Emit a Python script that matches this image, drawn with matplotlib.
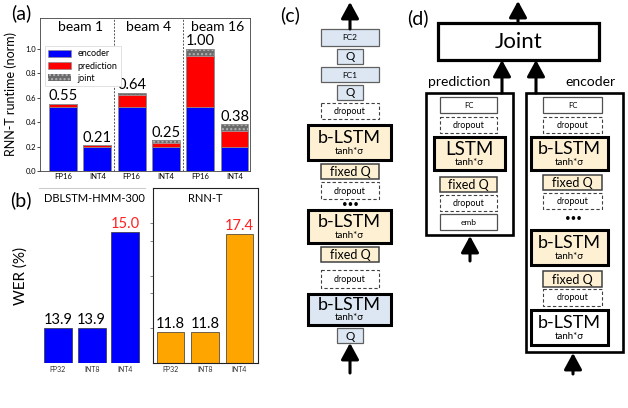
import numpy as np
import matplotlib
matplotlib.use("Agg")
import matplotlib.pyplot as plt
from matplotlib.patches import Rectangle

plt.rcParams['font.family'] = ['Lato', 'DejaVu Sans']

# (a) runtime breakdown
# -------------------------------------------------------------------------
beams = ['beam 1', 'beam 4', 'beam 16']
prec_a = ['FP16', 'INT4', 'FP16', 'INT4', 'FP16', 'INT4']
encoder = [0.52, 0.20, 0.52, 0.20, 0.52, 0.20]
prediction = [0.03, 0.01, 0.10, 0.03, 0.42, 0.13]
joint = [0.00, 0.00, 0.02, 0.02, 0.06, 0.05]
totals = [0.55, 0.21, 0.64, 0.25, 1.00, 0.38]

# (b) WER
# -------------------------------------------------------------------------
prec_b = ['FP32', 'INT8', 'INT4']
wer_dblstm = [13.9, 13.9, 15.0]
wer_rnnt = [11.8, 11.8, 17.4]

W, H = 628, 408
fig = plt.figure(figsize=(W / 100, H / 100), dpi=100)


def px_axes(x0, y0, x1, y1):
    return fig.add_axes([x0 / W, 1 - y1 / H, (x1 - x0) / W, (y1 - y0) / H])


# panel (a)
ax = px_axes(40, 18, 250, 171)
x = np.arange(len(prec_a))
enc = np.array(encoder)
pre = np.array(prediction)
jnt = np.array(joint)
ax.bar(x, enc, 0.81, color='#0000ff', edgecolor='#8c8c8c', lw=0.5, label='encoder')
ax.bar(x, pre, 0.81, bottom=enc, color='#ff0000', edgecolor='#8c8c8c', lw=0.5, label='prediction')
ax.bar(x, jnt, 0.81, bottom=enc + pre, color='#6a6a6a', edgecolor='#b4b4b4',
       hatch='....', lw=0, label='joint')
ax.bar(x, enc + pre + jnt, 0.81, fill=False, edgecolor='#8c8c8c', lw=0.6)
for xi, t in zip(x, totals):
    ax.text(xi, t + 0.005, f'{t:.2f}', ha='center', va='bottom', fontsize=10.5)
for k, b in enumerate(beams):
    ax.text(2 * k + 0.5, 1.18, b, ha='center', va='center', fontsize=10)
for sep in [1.5, 3.5]:
    ax.axvline(sep, color='#555555', ls=(0, (2, 1.5)), lw=0.7)
ax.set_xlim(-0.67, 5.45)
ax.set_ylim(0, 1.25)
ax.set_yticks(np.arange(0, 1.01, 0.2))
ax.set_yticklabels([f'{v:.1f}' for v in np.arange(0, 1.01, 0.2)])
ax.set_xticks(x)
ax.set_xticklabels(prec_a)
ax.tick_params(axis='y', labelsize=5.5, length=2, width=0.5, pad=1)
ax.tick_params(axis='x', labelsize=5.5, length=0, pad=1.5)
for s in ax.spines.values():
    s.set_linewidth(0.6)
    s.set_color('#404040')
ax.set_ylabel('RNN-T runtime (norm)', fontsize=9)
ax.yaxis.set_label_coords(-0.11, 0.5)
leg = ax.legend(loc='upper left', bbox_to_anchor=(0.0, 0.845), fontsize=6.5,
                handlelength=2.6, handleheight=0.9, labelspacing=0.35,
                borderpad=0.35, handletextpad=0.7, fancybox=False, framealpha=1)
leg.get_frame().set_edgecolor('#dddddd')
leg.get_frame().set_linewidth(0.6)

# panel (b) left
bl = px_axes(39, 188, 145, 363)
xb = np.arange(len(prec_b))
bl.bar(xb, np.array(wer_dblstm) - 13.5, 0.83, bottom=13.5, color='#0000ff',
       edgecolor='#333333', lw=0.5)
for xi, v in zip(xb, wer_dblstm):
    bl.text(xi, v + 0.01, f'{v:.1f}', ha='center', va='bottom', fontsize=10.5,
            color='#ff2020' if v == max(wer_dblstm) else 'black')
bl.set_xlim(-0.56, 2.58)
bl.set_ylim(13.5, 15.5)
bl.set_yticks([])
bl.set_xticks(xb)
bl.set_xticklabels(prec_b)
bl.tick_params(axis='x', labelsize=5, length=0, pad=2, labelcolor='#333333')
for k in ['left', 'right', 'bottom']:
    bl.spines[k].set_visible(False)
bl.spines['top'].set_color('#cccccc')
bl.spines['top'].set_linewidth(0.8)
bl.text(0.05, 0.94, 'DBLSTM-HMM-300', transform=bl.transAxes, ha='left',
        va='center', fontsize=8)
bl.set_ylabel('WER (%)', fontsize=11)
bl.yaxis.set_label_coords(-0.11, 0.5)

# panel (b) right
br = px_axes(153, 188, 258, 363)
br.bar(xb, np.array(wer_rnnt) - 10, 0.79, bottom=10, color='#ffa500',
       edgecolor='#333333', lw=0.5)
for xi, v in zip(xb, wer_rnnt):
    br.text(xi, v + 0.05, f'{v:.1f}', ha='center', va='bottom', fontsize=10.5,
            color='#ff2020' if v == max(wer_rnnt) else 'black')
br.set_xlim(-0.51, 2.54)
br.set_ylim(10, 20)
br.set_yticks([12, 14, 15, 17, 18])
br.set_yticklabels([])
br.set_xticks(xb)
br.set_xticklabels(prec_b)
br.tick_params(axis='y', length=2.5, width=0.5, color='#555555')
br.tick_params(axis='x', labelsize=5, length=0, pad=2, labelcolor='#333333')
for s in br.spines.values():
    s.set_linewidth(0.8)
    s.set_color('#222222')
br.text(0.5, 0.94, 'RNN-T', transform=br.transAxes, ha='center', va='center',
        fontsize=8)

# diagrams (c), (d)
# -------------------------------------------------------------------------
dg = fig.add_axes([0, 0, 1, 1])
dg.set_xlim(0, W)
dg.set_ylim(H, 0)
dg.axis('off')
dg.patch.set_alpha(0)

BLUE = '#dce7f3'
YELLOW = '#fdf0d3'
styles = {
    'blue': dict(fc=BLUE, ec='#606060', lw=0.9, ls='-'),
    'white': dict(fc='white', ec='#505050', lw=0.9, ls='-'),
    'fixq': dict(fc=YELLOW, ec='#404040', lw=1.1, ls='-'),
    'drop': dict(fc='white', ec='#404040', lw=0.8, ls=(0, (3, 2))),
    'lstm': dict(fc=YELLOW, ec='black', lw=2.2, ls='-'),
    'lstmb': dict(fc=BLUE, ec='black', lw=2.2, ls='-'),
    'lstmw': dict(fc='white', ec='black', lw=2.2, ls='-'),
    'outer': dict(fc='none', ec='black', lw=1.9, ls='-'),
    'joint': dict(fc='white', ec='black', lw=2.3, ls='-'),
}


def box(x0, x1, y0, y1, kind, text='', fs=7, sub=None):
    st = styles[kind]
    dg.add_patch(Rectangle((x0, y0), x1 - x0, y1 - y0, facecolor=st['fc'],
                           edgecolor=st['ec'], lw=st['lw'], ls=st['ls']))
    cx = (x0 + x1) / 2
    if sub is None:
        if text:
            dg.text(cx, (y0 + y1) / 2 + 0.5, text, ha='center', va='center', fontsize=fs)
    else:
        dg.text(cx, y0 + (y1 - y0) * 0.37, text, ha='center', va='center', fontsize=fs)
        dg.text(cx, y0 + (y1 - y0) * 0.77, sub, ha='center', va='center', fontsize=7)


def arrow(xc, y_tail, y_head):
    dg.annotate('', xy=(xc, y_head), xytext=(xc, y_tail),
                arrowprops=dict(arrowstyle='-|>,head_length=0.55,head_width=0.3',
                                lw=2.2, color='black', shrinkA=0, shrinkB=0,
                                mutation_scale=18))


# (c)
cx = 350
arrow(cx, 29, 2)
box(321, 379, 29, 46, 'blue', 'FC2', 6)
box(337, 363, 49, 64, 'blue', 'Q', 8.5)
box(321, 379, 67, 82, 'blue', 'FC1', 6)
box(337, 363, 85, 100, 'blue', 'Q', 8.5)
box(321, 379, 103, 119, 'drop', 'dropout', 6.5)
box(308, 391, 125, 160, 'lstm', 'b-LSTM', 13, 'tanh*σ')
box(321, 379, 164, 179, 'fixq', 'fixed Q', 9)
box(321, 379, 182, 199, 'drop', 'dropout', 6.5)
dg.text(cx, 205, '•••', ha='center', va='center', fontsize=7)
box(308, 391, 210, 243, 'lstm', 'b-LSTM', 13, 'tanh*σ')
box(321, 379, 247, 262, 'fixq', 'fixed Q', 9)
box(321, 379, 270, 288, 'drop', 'dropout', 6.5)
box(308, 391, 294, 325, 'lstmb', 'b-LSTM', 13, 'tanh*σ')
box(337, 363, 328, 343, 'blue', 'Q', 8.5)
arrow(cx, 373, 343)

# (d)
arrow(518, 23, 1)
box(438, 599, 23, 60, 'joint', 'Joint', 16)
arrow(502, 93, 60)
arrow(536, 93, 60)
dg.text(459, 82, 'prediction', ha='center', va='center', fontsize=10)
dg.text(590, 82, 'encoder', ha='center', va='center', fontsize=10)
box(426, 513, 93, 235, 'outer')
box(440, 497, 97, 113, 'white', 'FC', 5.5)
box(440, 497, 117, 133, 'drop', 'dropout', 6.5)
box(434, 505, 137, 170, 'lstm', 'LSTM', 13.5, 'tanh*σ')
box(440, 497, 177, 192, 'fixq', 'fixed Q', 9)
box(440, 497, 195, 211, 'drop', 'dropout', 6.5)
box(440, 497, 214, 230, 'white', 'emb', 6)
arrow(470, 261, 236)

box(526, 623, 93, 352, 'outer')
box(543, 602, 97, 113, 'white', 'FC', 5.5)
box(543, 602, 117, 133, 'drop', 'dropout', 6.5)
box(531, 608, 137, 170, 'lstm', 'b-LSTM', 13, 'tanh*σ')
box(543, 602, 175, 190, 'fixq', 'fixed Q', 9)
box(543, 602, 193, 209, 'drop', 'dropout', 6.5)
dg.text(573, 219, '•••', ha='center', va='center', fontsize=7)
box(531, 608, 230, 265, 'lstm', 'b-LSTM', 13, 'tanh*σ')
box(543, 602, 271, 287, 'fixq', 'fixed Q', 9)
box(543, 602, 289, 306, 'drop', 'dropout', 6.5)
box(531, 608, 310, 345, 'lstmw', 'b-LSTM', 13, 'tanh*σ')
arrow(573, 374, 353)

# panel letters
for lbl, px, py in [('(a)', 21, 13), ('(b)', 21, 200), ('(c)', 290, 15), ('(d)', 418, 18)]:
    dg.text(px, py, lbl, ha='center', va='center', fontsize=14)

fig.savefig('out.png', dpi=100)
